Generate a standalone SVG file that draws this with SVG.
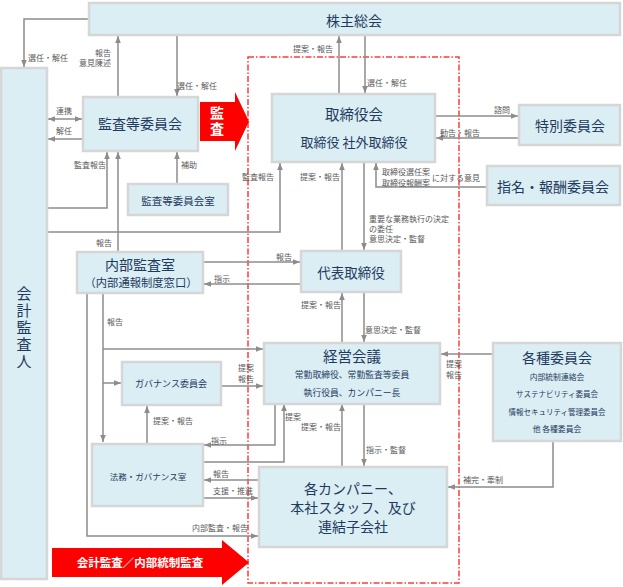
<svg xmlns="http://www.w3.org/2000/svg" width="623" height="587" viewBox="0 0 623 587">
<style>
.n rect{fill:#daeef3;stroke:#d6d6d6;stroke-width:2.5}
.t{font-family:"Noto Sans CJK JP","Noto Sans CJK SC",sans-serif;fill:#1f3a5f;text-anchor:middle;dominant-baseline:central}
.l{font-family:"Noto Sans CJK JP","Noto Sans CJK SC",sans-serif;font-size:8px;fill:#595959;text-anchor:middle;dominant-baseline:central}
.l.s{text-anchor:start}
.l.r{text-anchor:end}
.v{writing-mode:vertical-rl;dominant-baseline:auto}
.c path{fill:none;stroke:#8c8c8c;stroke-width:1.5}
.c .e{marker-end:url(#a)}
.w{font-family:"Noto Sans CJK JP","Noto Sans CJK SC",sans-serif;fill:#fff;font-weight:bold;text-anchor:middle;dominant-baseline:central}
</style>
<defs>
<marker id="a" viewBox="0 0 10 10" refX="10" refY="5" markerWidth="7" markerHeight="7" markerUnits="userSpaceOnUse" orient="auto-start-reverse"><path d="M0,1 L10,5 L0,9 z" fill="#8c8c8c"/></marker>
</defs>
<rect width="623" height="587" fill="#fff"/>

<!-- red boundary -->
<rect x="248" y="57" width="211" height="526" fill="none" stroke="#ff3b3b" stroke-width="1.5" stroke-dasharray="6,2,1.5,2"/>

<!-- connectors -->
<g class="c" id="connectors">
<path class="e" d="M88,19 H24 V67"/>
<path class="e" d="M118,96 V36"/>
<path class="e" d="M177,36 V96"/>
<path class="e" d="M48,119 H82" marker-start="url(#a)"/>
<path class="e" d="M82,139 H48"/>
<path class="e" d="M48,208 H107 V152"/>
<path class="e" d="M118,251 V152"/>
<path class="e" d="M177,184 V152"/>
<path class="e" d="M48,232 H280 V163"/>
<path class="e" d="M339,93 V36"/>
<path class="e" d="M365,36 V93"/>
<path class="e" d="M436,116 H518"/>
<path class="e" d="M518,138 H436"/>
<path class="e" d="M486,187 H376 V163"/>
<path class="e" d="M342,250 V163"/>
<path class="e" d="M364,163 V250"/>
<path class="e" d="M203,262 H300"/>
<path class="e" d="M300,284 H204"/>
<path class="e" d="M342,342 V293"/>
<path class="e" d="M364,293 V342"/>
<path class="e" d="M103,294 V442"/>
<path class="e" d="M103,349 H263"/>
<path class="e" d="M103,383 H121"/>
<path class="e" d="M87,294 V536 H258"/>
<path class="e" d="M222,386 H263"/>
<path class="e" d="M147,443 V406"/>
<path class="e" d="M275,404 V445 H204"/>
<path class="e" d="M204,462 H284 V404"/>
<path class="e" d="M342,466 V404"/>
<path class="e" d="M364,404 V466"/>
<path class="e" d="M258,480 H204"/>
<path class="e" d="M204,498 H258"/>
<path class="e" d="M492,354 H441"/>
<path class="e" d="M553,442 V487 H448"/>
</g>

<!-- connector labels -->
<g id="labels">
<text class="l" x="48" y="57">選任・解任</text>
<text class="l r" x="111" y="52">報告</text>
<text class="l r" x="111" y="62">意見陳述</text>
<text class="l" x="197" y="85">選任・解任</text>
<text class="l" x="64" y="110">連携</text>
<text class="l" x="64" y="130">解任</text>
<text class="l" x="90" y="164">監査報告</text>
<text class="l" x="104" y="242">報告</text>
<text class="l" x="189" y="164">補助</text>
<text class="l" x="258" y="176">監査報告</text>
<text class="l" x="313" y="48">提案・報告</text>
<text class="l" x="387" y="82">選任・解任</text>
<text class="l" x="502" y="109">諮問</text>
<text class="l" x="460" y="132">勧告・報告</text>
<text class="l" x="406" y="171">取締役選任案</text>
<text class="l" x="406" y="182">取締役報酬案</text>
<text class="l" x="456" y="177">に対する意見</text>
<text class="l" x="320" y="176">提案・報告</text>
<text class="l s" x="369" y="218">重要な業務執行の決定</text>
<text class="l s" x="369" y="228">の委任</text>
<text class="l s" x="369" y="238">意思決定・監督</text>
<text class="l" x="284" y="256">報告</text>
<text class="l" x="222" y="278">指示</text>
<text class="l" x="321" y="304">提案・報告</text>
<text class="l" x="393" y="329">意思決定・監督</text>
<text class="l" x="115" y="321">報告</text>
<text class="l" x="246" y="367">提案</text>
<text class="l" x="246" y="378">報告</text>
<text class="l" x="454" y="363">提案</text>
<text class="l" x="454" y="374">報告</text>
<text class="l" x="173" y="420">提案・報告</text>
<text class="l" x="293" y="416">提案</text>
<text class="l" x="321" y="426">提案・報告</text>
<text class="l" x="386" y="449">指示・監督</text>
<text class="l" x="219" y="440">指示</text>
<text class="l" x="221" y="473">報告</text>
<text class="l" x="233" y="490">支援・推進</text>
<text class="l" x="220" y="527">内部監査・報告</text>
<text class="l" x="483" y="479">補完・牽制</text>
</g>

<!-- nodes -->
<g class="n" id="kabunushi"><rect x="89" y="3" width="531" height="32"/><text class="t" x="354" y="20" font-size="14">株主総会</text></g>
<g class="n" id="kaikei"><rect x="1" y="68" width="46" height="511"/>
<text class="t v" x="24" y="328" font-size="15" letter-spacing="2">会計監査人</text></g>
<g class="n" id="kansatou"><rect x="83" y="97" width="115" height="54"/><text class="t" x="140" y="123" font-size="14">監査等委員会</text></g>
<g class="n" id="kansashitsu"><rect x="128" y="184" width="100" height="31"/><text class="t" x="178" y="200" font-size="10.5">監査等委員会室</text></g>
<g class="n" id="torishimariyakukai"><rect x="272" y="94" width="163" height="68"/><text class="t" x="354" y="113" font-size="14.5">取締役会</text><text class="t" x="354" y="141" font-size="13">取締役 社外取締役</text></g>
<g class="n" id="tokubetsu"><rect x="519" y="105" width="101" height="40"/><text class="t" x="570" y="125" font-size="14">特別委員会</text></g>
<g class="n" id="shimei"><rect x="487" y="166" width="133" height="39"/><text class="t" x="553" y="186" font-size="14">指名・報酬委員会</text></g>
<g class="n" id="daihyo"><rect x="301" y="251" width="100" height="41"/><text class="t" x="351" y="272" font-size="13.5">代表取締役</text></g>
<g class="n" id="naibu"><rect x="77" y="252" width="126" height="41"/><text class="t" x="140" y="264" font-size="14">内部監査室</text><text class="t" x="141" y="282" font-size="11.3">（内部通報制度窓口）</text></g>
<g class="n" id="keiei"><rect x="264" y="343" width="176" height="61"/><text class="t" x="352" y="355" font-size="14.5">経営会議</text><text class="t" x="352" y="374" font-size="8.8">常勤取締役、常勤監査等委員</text><text class="t" x="352" y="392" font-size="8.8">執行役員、カンパニー長</text></g>
<g class="n" id="kakushu"><rect x="493" y="343" width="128" height="98"/><text class="t" x="557" y="357" font-size="14">各種委員会</text><text class="t" x="557" y="376" font-size="7.8">内部統制連絡会</text><text class="t" x="557" y="393" font-size="7.5">サステナビリティ委員会</text><text class="t" x="557" y="411" font-size="7.5">情報セキュリティ管理委員会</text><text class="t" x="557" y="428" font-size="7.8">他 各種委員会</text></g>
<g class="n" id="governance"><rect x="122" y="362" width="99" height="43"/><text class="t" x="171" y="383" font-size="9">ガバナンス委員会</text></g>
<g class="n" id="homu"><rect x="92" y="444" width="111" height="62"/><text class="t" x="148" y="476" font-size="8.5">法務・ガバナンス室</text></g>
<g class="n" id="company"><rect x="259" y="467" width="188" height="80"/><text class="t" font-size="14"><tspan x="353" y="487.5">各カンパニー、</tspan><tspan x="353" y="506.5">本社スタッフ、及び</tspan><tspan x="353" y="525.5">連結子会社</tspan></text></g>

<!-- red arrows -->
<g id="kansa-arrow"><path d="M200,102 H235 V92 L249,121.5 L235,151 V141 H200 Z" fill="#ff0000"/><text class="w v" x="217" y="122" font-size="14" letter-spacing="2">監査</text></g>
<g id="audit-arrow"><path d="M52,548 H222 V540 L249,562.5 L222,585 V577 H52 Z" fill="#ff0000"/><text class="w" x="140" y="562" font-size="11.5">会計監査／内部統制監査</text></g>
</svg>
